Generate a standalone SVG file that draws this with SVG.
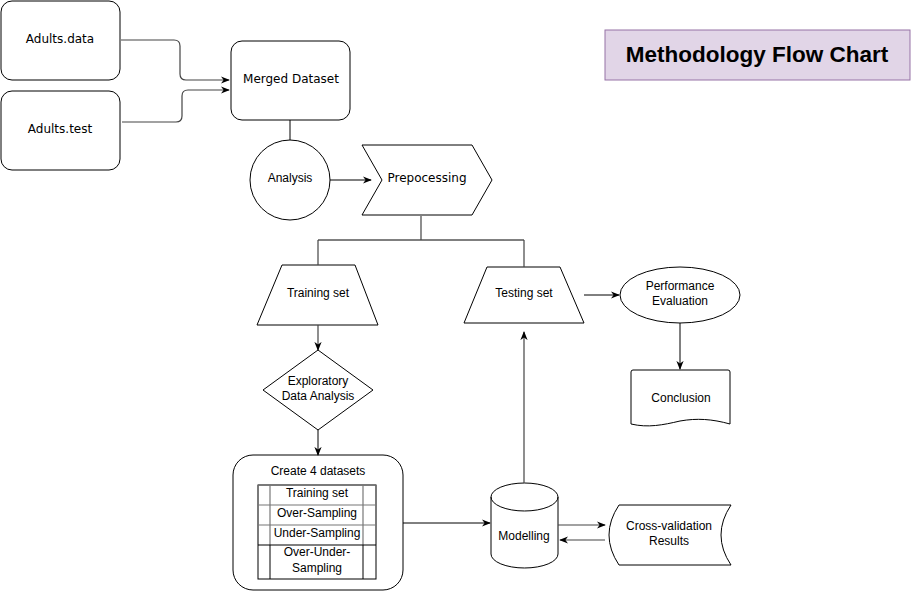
<svg xmlns="http://www.w3.org/2000/svg" width="912" height="592" viewBox="0 0 912 592">
<defs>
<marker id="arr" viewBox="0 0 10 10" refX="9" refY="5" markerWidth="9" markerHeight="9" orient="auto" markerUnits="userSpaceOnUse">
<path d="M0,1 L10,5 L0,9 L3,5 Z" fill="#000"/>
</marker>
<style>
.s{fill:#fff;stroke:#000;stroke-width:1}
.t{font-family:"Liberation Sans",Arial,sans-serif;font-size:12px;fill:#000;text-anchor:middle}
.v{font-family:"DejaVu Sans",Verdana,sans-serif;font-size:12px;fill:#000;text-anchor:middle}
.c{fill:none;stroke:#000;stroke-width:1}
.cg{fill:none;stroke:#444;stroke-width:1.2}
</style>
</defs>
<rect width="912" height="592" fill="#fff"/>

<g id="title">
<rect x="605" y="30" width="305" height="50" fill="#e1d5e7" stroke="#9673a6" stroke-width="1"/>
<text x="757" y="62" font-family="Liberation Sans, Arial, sans-serif" font-size="22.5" font-weight="bold" text-anchor="middle">Methodology Flow Chart</text>
</g>

<g id="adults-data">
<rect class="s" x="1" y="1" width="119" height="79" rx="11"/>
<text class="v" x="60" y="43">Adults.data</text>
</g>
<g id="adults-test">
<rect class="s" x="1" y="91" width="119" height="79" rx="11"/>
<text class="v" x="60" y="133">Adults.test</text>
</g>
<g id="merged">
<rect class="s" x="231" y="41" width="119" height="79" rx="11"/>
<text class="v" x="291" y="83">Merged Dataset</text>
</g>
<g id="analysis">
<circle class="s" cx="290" cy="180" r="40"/>
<text class="t" x="290" y="182">Analysis</text>
</g>
<g id="preprocessing">
<path class="s" d="M362,145 H472 L492,180 L472,215 H362 L382,180 Z"/>
<text class="v" x="427" y="182">Prepocessing</text>
</g>
<g id="training">
<path class="s" d="M282,265 H355 L378,325 H257 Z"/>
<text class="t" x="318" y="297">Training set</text>
</g>
<g id="testing">
<path class="s" d="M487,267 H560 L584,323 H464 Z"/>
<text class="t" x="524" y="297">Testing set</text>
</g>
<g id="performance">
<ellipse class="s" cx="680" cy="295" rx="60" ry="28"/>
<text class="t" x="680" y="290">Performance</text>
<text class="t" x="680" y="305">Evaluation</text>
</g>
<g id="conclusion">
<path class="s" d="M631,372 Q631,370 633,370 H728 Q730,370 730,372 V424 C712,419 697,418 680,421 C663,425 648,428 631,424 Z"/>
<text class="t" x="681" y="402">Conclusion</text>
</g>
<g id="eda">
<path class="s" d="M318,350 L373,390 L318,430 L263,390 Z"/>
<text class="t" x="318" y="385">Exploratory</text>
<text class="t" x="318" y="400">Data Analysis</text>
</g>
<g id="create">
<rect class="s" x="233" y="455" width="170" height="135" rx="20"/>
<text class="t" x="318" y="475">Create 4 datasets</text>
<rect x="258" y="485" width="118" height="94" fill="#fff" stroke="#000"/>
<g stroke="#777" stroke-width="1.2">
<line x1="258" y1="485" x2="376" y2="485"/>
<line x1="258" y1="505" x2="376" y2="505"/>
<line x1="258" y1="525" x2="376" y2="525"/>
<line x1="258" y1="485" x2="258" y2="545"/>
<line x1="376" y1="485" x2="376" y2="545"/>
<line x1="270" y1="485" x2="270" y2="545"/>
<line x1="363" y1="485" x2="363" y2="545"/>
</g>
<line x1="258" y1="545" x2="376" y2="545" stroke="#000"/>
<line x1="270" y1="545" x2="270" y2="579" stroke="#000"/>
<line x1="363" y1="545" x2="363" y2="579" stroke="#000"/>
<text class="t" x="317" y="497">Training set</text>
<text class="t" x="317" y="517">Over-Sampling</text>
<text class="t" x="317" y="537">Under-Sampling</text>
<text class="t" x="317" y="556">Over-Under-</text>
<text class="t" x="317" y="572">Sampling</text>
</g>
<g id="modelling">
<path class="s" d="M491,497 A33.5,14 0 0 1 558,497 V554 A33.5,14 0 0 1 491,554 Z"/>
<path class="c" d="M491,497 A33.5,14 0 0 0 558,497"/>
<text class="t" x="524" y="540">Modelling</text>
</g>
<g id="crossval">
<path class="s" d="M619,505 H731 Q711,535 731,565 H619 Q599,535 619,505 Z"/>
<text class="t" x="669" y="530">Cross-validation</text>
<text class="t" x="669" y="545">Results</text>
</g>

<g id="connectors">
<path class="cg" d="M121,40 H174 Q180,40 180,46 V74 Q180,80 186,80 H229" marker-end="url(#arr)"/>
<path class="cg" d="M122,122 H176 Q182,122 182,116 V96 Q182,90 188,90 H229" marker-end="url(#arr)"/>
<path class="c" d="M290,120 V140"/>
<path class="c" d="M330,180 H371" marker-end="url(#arr)"/>
<path class="c" d="M318,240 H524"/>
<path class="cg" d="M421,216 V240"/>
<path class="cg" d="M318,240 V265 M524,240 V267"/>
<path class="cg" d="M318,325 V350" marker-end="url(#arr)"/>
<path class="c" d="M584,295 H619" marker-end="url(#arr)"/>
<path class="c" d="M680,323 V369" marker-end="url(#arr)"/>
<path class="c" d="M318,430 V455" marker-end="url(#arr)"/>
<path class="c" d="M403,523 H490" marker-end="url(#arr)"/>
<path class="cg" d="M524,483 V332" marker-end="url(#arr)"/>
<path class="cg" d="M558,525 H605" marker-end="url(#arr)"/>
<path class="cg" d="M605,540 H560" marker-end="url(#arr)"/>
</g>
</svg>
